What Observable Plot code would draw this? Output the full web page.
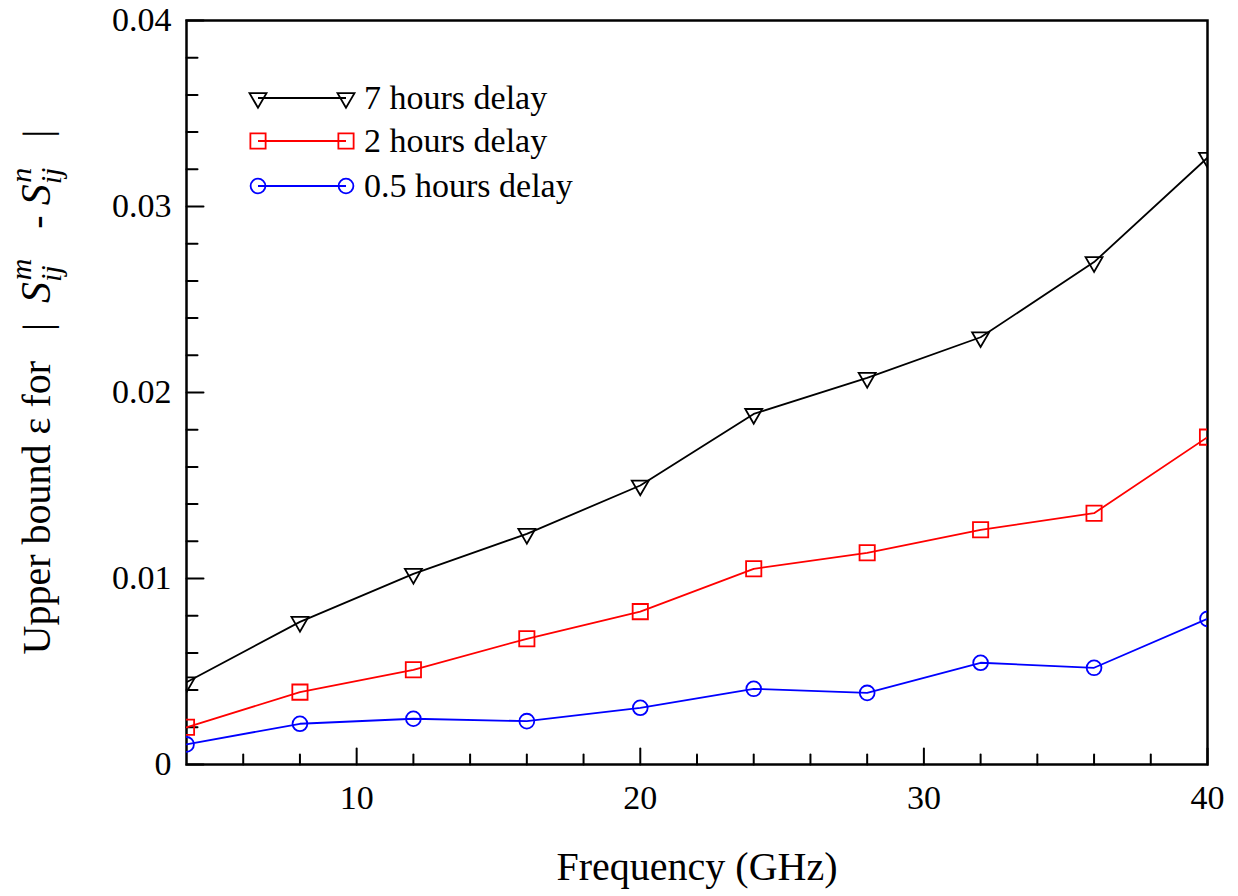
<!DOCTYPE html>
<html>
<head>
<meta charset="utf-8">
<script src="https://cdn.jsdelivr.net/npm/d3@7"></script>
<script src="https://cdn.jsdelivr.net/npm/@observablehq/plot@0.6"></script>
<style>
  html, body { margin: 0; padding: 0; background: #fff; }
  #chart svg { display: block; }
</style>
</head>
<body>
<div id="chart"></div>
<script>
// ---- data ----
const frequencies = [4, 8, 12, 16, 20, 24, 28, 32, 36, 40];
const delay7h  = [0.00442, 0.00767, 0.01025, 0.01240, 0.01500, 0.01885, 0.02079, 0.02297, 0.02701, 0.03262];
const delay2h  = [0.00200, 0.00389, 0.00509, 0.00676, 0.00822, 0.01052, 0.01138, 0.01262, 0.01351, 0.01760];
const delay05h = [0.00108, 0.00219, 0.00246, 0.00233, 0.00305, 0.00407, 0.00385, 0.00547, 0.00520, 0.00783];

const seriesNames   = ["7 hours delay", "2 hours delay", "0.5 hours delay"];
const seriesColors  = ["#000000", "#ff0000", "#0000ff"];
const seriesSymbols = ["triangle", "square", "circle"];

const xMajorTicks = [10, 20, 30, 40];
const xMinorTicks = [6, 8, 12, 14, 16, 18, 22, 24, 26, 28, 32, 34, 36, 38];
const yMajorTicks = [0, 0.01, 0.02, 0.03, 0.04];
const yTickLabels = ["0", "0.01", "0.02", "0.03", "0.04"];
const yMinorTicks = [0.002, 0.004, 0.006, 0.008, 0.012, 0.014, 0.016, 0.018,
                     0.022, 0.024, 0.026, 0.028, 0.032, 0.034, 0.036, 0.038];

const xLabel = "Frequency (GHz)";

// ---- build tidy table ----
const seriesValues = [delay7h, delay2h, delay05h];
const table = seriesValues.map((vals, s) =>
  frequencies.map((f, i) => ({freq: f, value: vals[i], series: seriesNames[s]}))
);

const FONT = "'Liberation Serif', 'Times New Roman', serif";
const symbolR = {triangle: 6.3, square: 8.6, circle: 7.4};
const tickShape = {draw(ctx, l) { ctx.moveTo(0, 0); ctx.lineTo(0, -l); }};

const marks = [
  Plot.frame({stroke: "#000", strokeWidth: 2.5}),
  // ticks (inward)
  Plot.vector(xMajorTicks, {x: d => d, y: 0, length: 16, rotate: 0, anchor: "start", shape: tickShape, stroke: "#000", strokeWidth: 2}),
  Plot.vector(xMinorTicks, {x: d => d, y: 0, length: 10, rotate: 0, anchor: "start", shape: tickShape, stroke: "#000", strokeWidth: 2}),
  Plot.vector(yMajorTicks, {x: 4, y: d => d, length: 17, rotate: 90, anchor: "start", shape: tickShape, stroke: "#000", strokeWidth: 2}),
  Plot.vector(yMinorTicks, {x: 4, y: d => d, length: 11, rotate: 90, anchor: "start", shape: tickShape, stroke: "#000", strokeWidth: 2}),
  Plot.axisX({ticks: xMajorTicks, tickSize: 0, tickPadding: 20, tickFormat: d => String(d), label: null, fontSize: 34}),
  Plot.axisY({ticks: yMajorTicks, tickSize: 0, tickPadding: 15, tickFormat: d => yTickLabels[yMajorTicks.indexOf(d)], label: null, fontSize: 34}),
  Plot.text([xLabel], {text: d => d, frameAnchor: "bottom", dy: 115, fontSize: 40, fill: "#000"})
];

table.forEach((rows, s) => {
  marks.push(Plot.line(rows, {x: "freq", y: "value", stroke: seriesColors[s], strokeWidth: 1.8, clip: true}));
  marks.push(Plot.dot(rows, {
    x: "freq", y: "value", symbol: seriesSymbols[s], r: symbolR[seriesSymbols[s]],
    rotate: seriesSymbols[s] === "triangle" ? 180 : 0,
    stroke: seriesColors[s], fill: "none", strokeWidth: 1.8, clip: true
  }));
});

const plot = Plot.plot({
  width: 1238,
  height: 896,
  marginLeft: 186,
  marginRight: 31,
  marginTop: 20,
  marginBottom: 132,
  style: {fontFamily: FONT, fontSize: "34px", color: "#000", background: "#fff", overflow: "visible"},
  x: {domain: [4, 40]},
  y: {domain: [0, 0.04]},
  marks
});

document.getElementById("chart").appendChild(plot);

// ---- y-axis label with sub/superscripts ----
const svg = d3.select(plot);
const yl = svg.append("text")
  .attr("transform", "translate(50,392) rotate(-90)")
  .attr("text-anchor", "middle")
  .attr("fill", "#000")
  .style("font-family", FONT)
  .style("font-size", "40px")
  .style("white-space", "pre");
yl.append("tspan").text("Upper bound \u03b5 for   |  ");
yl.append("tspan").attr("font-style", "italic").attr("font-size", "42px").text("S");
yl.append("tspan").attr("font-style", "italic").attr("font-size", "30px").attr("dy", 11).text("ij");
yl.append("tspan").attr("font-style", "italic").attr("font-size", "30px").attr("dx", -15).attr("dy", -30).text("m");
yl.append("tspan").attr("dy", 19).text("   - ");
yl.append("tspan").attr("font-style", "italic").attr("font-size", "42px").text("S");
yl.append("tspan").attr("font-style", "italic").attr("font-size", "30px").attr("dy", 11).text("ij");
yl.append("tspan").attr("font-style", "italic").attr("font-size", "30px").attr("dx", -15).attr("dy", -30).text("n");
yl.append("tspan").attr("dy", 19).text("   |");

// ---- legend ----
const legendRows = [98, 141, 186];
const lg = svg.append("g").attr("class", "legend").attr("text-anchor", "start");
seriesNames.forEach((name, i) => {
  const y = legendRows[i];
  const g = lg.append("g");
  g.append("line").attr("x1", 258).attr("x2", 346).attr("y1", y).attr("y2", y)
    .attr("stroke", seriesColors[i]).attr("stroke-width", 1.8);
  const type = seriesSymbols[i] === "triangle" ? d3.symbolTriangle : seriesSymbols[i] === "square" ? d3.symbolSquare : d3.symbolCircle;
  const r = symbolR[seriesSymbols[i]];
  const path = d3.symbol(type, Math.PI * r * r)();
  [258, 346].forEach(x => {
    g.append("path").attr("d", path)
      .attr("transform", `translate(${x},${y})` + (seriesSymbols[i] === "triangle" ? " rotate(180)" : ""))
      .attr("fill", "none").attr("stroke", seriesColors[i]).attr("stroke-width", 1.8);
  });
  g.append("text").attr("x", 364).attr("y", y).attr("dy", "0.32em").attr("text-anchor", "start")
    .attr("fill", "#000").style("font-family", FONT).style("font-size", "34px").text(name);
});
</script>
</body>
</html>
